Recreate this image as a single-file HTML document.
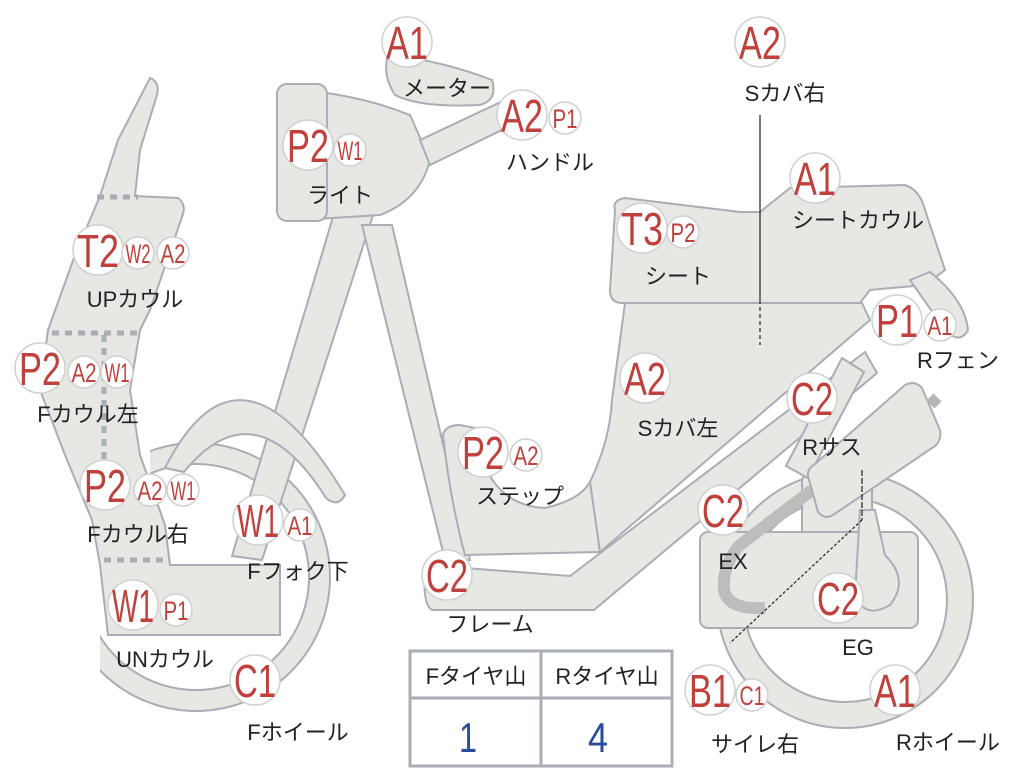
<!DOCTYPE html>
<html><head><meta charset="utf-8"><style>
html,body{margin:0;padding:0;background:#fff;width:1024px;height:768px;overflow:hidden}
svg{display:block}
.s{fill:#e7e7e3;stroke:#a9adb6;stroke-width:2}
.bc{fill:#fff;stroke:#d0d0d0;stroke-width:1.5}
.b{font-family:"Liberation Sans",sans-serif;fill:#c0403c;font-size:46px;text-anchor:middle}
.m{font-family:"Liberation Sans",sans-serif;fill:#c0403c;font-size:27px;text-anchor:middle}
.l{font-family:"Liberation Sans","Noto Sans CJK JP",sans-serif;fill:#222;font-size:22px;text-anchor:middle}
</style></head><body>
<svg width="1024" height="768" viewBox="0 0 1024 768">
<defs><clipPath id="fw"><rect x="150" y="380" width="250" height="380"/><rect x="100" y="630" width="100" height="130"/></clipPath></defs>
<!-- rear wheel -->
<circle cx="845" cy="600" r="128" class="s"/>
<circle cx="845" cy="600" r="102" fill="#fff" stroke="#a9adb6" stroke-width="2"/>
<!-- front wheel -->
<g clip-path="url(#fw)">
<circle cx="196" cy="577" r="134" class="s"/>
<circle cx="196" cy="577" r="113" fill="#fff" stroke="#a9adb6" stroke-width="2"/>
</g>
<!-- fork -->
<polygon class="s" points="338,200 376,206 262,560 232,556"/>
<polygon class="s" points="362,225 392,225 470,560 445,560"/>
<!-- front fender -->
<path class="s" d="M165,468 Q240,320 345,495 Q338,508 326,498 Q255,385 184,472 Z"/>
<!-- cowl -->
<path class="s" d="M150,78 Q160,82 157,95 L140,150 L135,196 L178,198 Q186,204 183,214 L150,310 L140,330 L130,390 L140,455 L165,525 L170,565 L280,565 L280,635 L108,635 L100,565 L92,520 L65,455 L40,390 L48,330 L75,255 L100,196 L118,140 Z"/>
<g stroke="#a9adb6" stroke-width="5" stroke-dasharray="7,6" fill="none">
<line x1="97" y1="197" x2="138" y2="197"/>
<line x1="52" y1="333" x2="140" y2="333"/>
<line x1="104" y1="335" x2="104" y2="470"/>
<line x1="104" y1="560" x2="170" y2="560"/>
</g>
<!-- headlight -->
<path class="s" d="M300,90 Q360,95 410,115 L430,160 Q420,200 380,215 L300,220 Z"/>
<rect class="s" x="277" y="84" width="50" height="137" rx="10"/>
<!-- handle bar -->
<polygon class="s" points="420,140 505,100 512,125 430,165"/>
<!-- meter -->
<path class="s" d="M388,55 Q440,60 492,80 Q498,100 480,105 Q420,108 395,95 Q382,75 388,55 Z"/>
<!-- engine block -->
<rect class="s" x="802" y="475" width="70" height="80" rx="6"/>
<rect class="s" x="700" y="532" width="218" height="96" rx="8"/>
<path class="s" d="M860,510 L875,510 L885,555 Q910,580 890,605 Q865,620 855,595 Z"/>
<!-- seat -->
<path class="s" d="M615,210 Q612,200 625,198 L740,212 L760,212 L790,188 L905,185 Q920,190 925,210 L945,270 L925,285 L870,290 L860,303 L622,303 Q610,303 610,290 Z"/>
<!-- side cover -->
<path class="s" d="M625,303 L862,303 L870,320 L600,552 L590,482 Q610,440 612,400 Z"/>
<!-- rear fender -->
<path class="s" d="M910,280 L930,272 Q965,300 968,330 Q960,345 945,330 Z"/>
<!-- step -->
<path class="s" d="M443,435 Q445,425 460,425 L475,428 Q485,505 545,508 Q580,500 590,482 L600,552 L465,555 Q450,500 443,435 Z"/>
<!-- frame tube -->
<path class="s" d="M425,565 L570,576 L865,352 L877,373 L594,610 L432,610 Q422,605 425,565 Z"/>
<!-- stay -->
<polygon class="s" points="842,358 864,372 808,478 786,466"/>
<!-- exhaust -->
<path d="M812,490 L740,545 Q722,565 724,590 Q728,610 765,608" stroke="#bdbdbd" stroke-width="12" fill="none"/>
<!-- swingarm box -->
<path class="s" d="M809,480 Q805,470 815,464 L905,385 Q915,380 922,388 L940,430 Q942,440 935,446 L833,515 Q825,520 818,512 Z"/>
<line x1="930" y1="397" x2="938" y2="405" stroke="#b5b5b5" stroke-width="10"/>
<!-- leader lines -->
<line x1="760" y1="115" x2="760" y2="300" stroke="#222" stroke-width="1.2"/>
<line x1="760" y1="300" x2="760" y2="345" stroke="#222" stroke-width="1.2" stroke-dasharray="4,3"/>
<line x1="862" y1="470" x2="862" y2="520" stroke="#222" stroke-width="1.2" stroke-dasharray="6,2"/>
<line x1="862" y1="520" x2="730" y2="643" stroke="#222" stroke-width="1.2" stroke-dasharray="3,2"/>
<!-- table -->
<rect x="410" y="651" width="262" height="115" fill="#fff" stroke="#a9adb6" stroke-width="3"/>
<line x1="410" y1="698" x2="672" y2="698" stroke="#a9adb6" stroke-width="3"/>
<line x1="541" y1="651" x2="541" y2="766" stroke="#a9adb6" stroke-width="3"/>
<text class="l" x="476" y="684">Fタイヤ山</text>
<text class="l" x="607" y="684">Rタイヤ山</text>
<text x="468" y="752" font-family="Liberation Sans,sans-serif" font-size="42" fill="#2a4a9a" text-anchor="middle" textLength="18" lengthAdjust="spacingAndGlyphs">1</text>
<text x="598" y="752" font-family="Liberation Sans,sans-serif" font-size="42" fill="#2a4a9a" text-anchor="middle" textLength="20" lengthAdjust="spacingAndGlyphs">4</text>

<!-- badges -->
<g>
<circle class="bc" cx="407" cy="42" r="25"/><text class="b" x="407" y="59" textLength="42" lengthAdjust="spacingAndGlyphs">A1</text>
<text class="l" x="447" y="96">メーター</text>
<circle class="bc" cx="522" cy="115" r="25"/><text class="b" x="522" y="132" textLength="42" lengthAdjust="spacingAndGlyphs">A2</text>
<circle class="bc" cx="565" cy="118" r="16"/><text class="m" x="565" y="128" textLength="25" lengthAdjust="spacingAndGlyphs">P1</text>
<text class="l" x="550" y="170">ハンドル</text>
<circle class="bc" cx="308" cy="145" r="25"/><text class="b" x="308" y="162" textLength="42" lengthAdjust="spacingAndGlyphs">P2</text>
<circle class="bc" cx="350" cy="150" r="16"/><text class="m" x="350" y="160" textLength="25" lengthAdjust="spacingAndGlyphs">W1</text>
<text class="l" x="340" y="203">ライト</text>
<circle class="bc" cx="760" cy="42" r="25"/><text class="b" x="760" y="59" textLength="42" lengthAdjust="spacingAndGlyphs">A2</text>
<text class="l" x="785" y="101">Sカバ右</text>
<circle class="bc" cx="815" cy="178" r="25"/><text class="b" x="815" y="195" textLength="42" lengthAdjust="spacingAndGlyphs">A1</text>
<text class="l" x="858" y="228">シートカウル</text>
<circle class="bc" cx="642" cy="228" r="25"/><text class="b" x="642" y="245" textLength="42" lengthAdjust="spacingAndGlyphs">T3</text>
<circle class="bc" cx="683" cy="232" r="16"/><text class="m" x="683" y="242" textLength="25" lengthAdjust="spacingAndGlyphs">P2</text>
<text class="l" x="678" y="284">シート</text>
<circle class="bc" cx="897" cy="320" r="25"/><text class="b" x="897" y="337" textLength="42" lengthAdjust="spacingAndGlyphs">P1</text>
<circle class="bc" cx="940" cy="325" r="16"/><text class="m" x="940" y="335" textLength="25" lengthAdjust="spacingAndGlyphs">A1</text>
<text class="l" x="958" y="368">Rフェン</text>
<circle class="bc" cx="645" cy="378" r="25"/><text class="b" x="645" y="395" textLength="42" lengthAdjust="spacingAndGlyphs">A2</text>
<text class="l" x="678" y="436">Sカバ左</text>
<circle class="bc" cx="812" cy="398" r="25"/><text class="b" x="812" y="415" textLength="42" lengthAdjust="spacingAndGlyphs">C2</text>
<text class="l" x="832" y="455">Rサス</text>
<circle class="bc" cx="483" cy="452" r="25"/><text class="b" x="483" y="469" textLength="42" lengthAdjust="spacingAndGlyphs">P2</text>
<circle class="bc" cx="526" cy="455" r="16"/><text class="m" x="526" y="465" textLength="25" lengthAdjust="spacingAndGlyphs">A2</text>
<text class="l" x="520" y="504">ステップ</text>
<circle class="bc" cx="723" cy="510" r="25"/><text class="b" x="723" y="527" textLength="42" lengthAdjust="spacingAndGlyphs">C2</text>
<text class="l" x="733" y="569">EX</text>
<circle class="bc" cx="447" cy="575" r="25"/><text class="b" x="447" y="592" textLength="42" lengthAdjust="spacingAndGlyphs">C2</text>
<text class="l" x="490" y="632">フレーム</text>
<circle class="bc" cx="838" cy="598" r="25"/><text class="b" x="838" y="615" textLength="42" lengthAdjust="spacingAndGlyphs">C2</text>
<text class="l" x="858" y="655">EG</text>
<circle class="bc" cx="895" cy="690" r="25"/><text class="b" x="895" y="707" textLength="42" lengthAdjust="spacingAndGlyphs">A1</text>
<text class="l" x="948" y="750">Rホイール</text>
<circle class="bc" cx="710" cy="690" r="25"/><text class="b" x="710" y="707" textLength="42" lengthAdjust="spacingAndGlyphs">B1</text>
<circle class="bc" cx="752" cy="695" r="16"/><text class="m" x="752" y="705" textLength="25" lengthAdjust="spacingAndGlyphs">C1</text>
<text class="l" x="755" y="752">サイレ右</text>
<circle class="bc" cx="255" cy="680" r="25"/><text class="b" x="255" y="697" textLength="42" lengthAdjust="spacingAndGlyphs">C1</text>
<text class="l" x="298" y="740">Fホイール</text>
<circle class="bc" cx="133" cy="605" r="25"/><text class="b" x="133" y="622" textLength="42" lengthAdjust="spacingAndGlyphs">W1</text>
<circle class="bc" cx="176" cy="610" r="16"/><text class="m" x="176" y="620" textLength="25" lengthAdjust="spacingAndGlyphs">P1</text>
<text class="l" x="165" y="667">UNカウル</text>
<circle class="bc" cx="258" cy="520" r="25"/><text class="b" x="258" y="537" textLength="42" lengthAdjust="spacingAndGlyphs">W1</text>
<circle class="bc" cx="300" cy="525" r="16"/><text class="m" x="300" y="535" textLength="25" lengthAdjust="spacingAndGlyphs">A1</text>
<text class="l" x="298" y="579">Fフォク下</text>
<circle class="bc" cx="105" cy="485" r="25"/><text class="b" x="105" y="502" textLength="42" lengthAdjust="spacingAndGlyphs">P2</text>
<circle class="bc" cx="150" cy="490" r="16"/><text class="m" x="150" y="500" textLength="25" lengthAdjust="spacingAndGlyphs">A2</text>
<circle class="bc" cx="183" cy="490" r="16"/><text class="m" x="183" y="500" textLength="25" lengthAdjust="spacingAndGlyphs">W1</text>
<text class="l" x="138" y="542">Fカウル右</text>
<circle class="bc" cx="40" cy="368" r="25"/><text class="b" x="40" y="385" textLength="42" lengthAdjust="spacingAndGlyphs">P2</text>
<circle class="bc" cx="84" cy="372" r="16"/><text class="m" x="84" y="382" textLength="25" lengthAdjust="spacingAndGlyphs">A2</text>
<circle class="bc" cx="117" cy="372" r="16"/><text class="m" x="117" y="382" textLength="25" lengthAdjust="spacingAndGlyphs">W1</text>
<text class="l" x="88" y="422">Fカウル左</text>
<circle class="bc" cx="98" cy="250" r="25"/><text class="b" x="98" y="267" textLength="42" lengthAdjust="spacingAndGlyphs">T2</text>
<circle class="bc" cx="138" cy="253" r="16"/><text class="m" x="138" y="263" textLength="25" lengthAdjust="spacingAndGlyphs">W2</text>
<circle class="bc" cx="173" cy="253" r="16"/><text class="m" x="173" y="263" textLength="25" lengthAdjust="spacingAndGlyphs">A2</text>
<text class="l" x="135" y="307">UPカウル</text>
</g>
</svg>
</body></html>
